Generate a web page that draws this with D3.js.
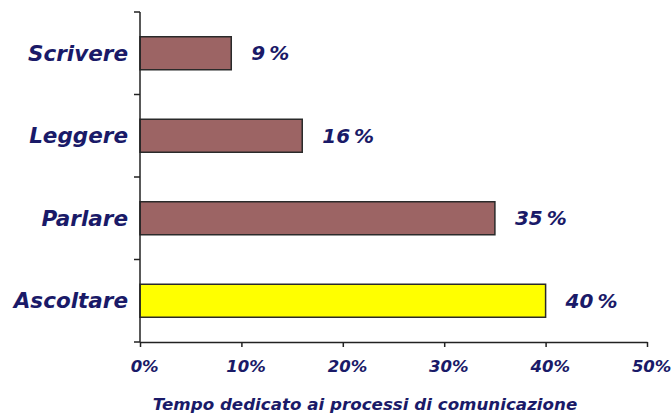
<!DOCTYPE html>
<html>
<head>
<meta charset="utf-8">
<script src="https://cdn.jsdelivr.net/npm/d3@7"></script>
<style>
  body { margin: 0; background: #fff; }
  text { font-family: "DejaVu Sans", Verdana, sans-serif; font-weight: bold; font-style: italic; fill: #1a1a68; }
</style>
</head>
<body>
<div id="chart"></div>
<script>
// data
var categories = ["Scrivere", "Leggere", "Parlare", "Ascoltare"];
var values = [9, 16, 35, 40];
var barColors = ["#9c6464", "#9c6464", "#9c6464", "#ffff00"];
var xTicks = [0, 10, 20, 30, 40, 50];
var axisTitle = "Tempo dedicato ai processi di comunicazione";

var svgWidth = 672, svgHeight = 419;

var svg = d3.select("#chart")
  .append("svg")
  .attr("width", svgWidth)
  .attr("height", svgHeight);

var x = d3.scaleLinear()
  .domain([0, 50])
  .range([140, 647]);

var y = d3.scaleBand()
  .domain(categories)
  .range([12, 342])
  .paddingInner(0.6)
  .paddingOuter(0.3);

// bars
svg.selectAll("rect.bar")
  .data(values)
  .enter()
  .append("rect")
  .attr("class", "bar")
  .attr("x", x(0))
  .attr("y", (d, i) => y(categories[i]))
  .attr("width", d => x(d) - x(0))
  .attr("height", y.bandwidth())
  .attr("fill", (d, i) => barColors[i])
  .attr("stroke", "#2a2a2a")
  .attr("stroke-width", 1.5);

// value labels
svg.selectAll("text.val")
  .data(values)
  .enter()
  .append("text")
  .attr("class", "val")
  .attr("x", d => x(d) + 20)
  .attr("y", (d, i) => y(categories[i]) + y.bandwidth() / 2)
  .attr("dy", "0.35em")
  .style("font-size", "20px")
  .style("word-spacing", "-3px")
  .text(d => d + " %");

// category labels
svg.selectAll("text.cat")
  .data(categories)
  .enter()
  .append("text")
  .attr("class", "cat")
  .attr("x", 128)
  .attr("y", d => y(d) + y.bandwidth() / 2)
  .attr("dy", "0.36em")
  .attr("text-anchor", "end")
  .style("font-size", "21.5px")
  .text(d => d);

// y axis line + ticks between bands
var step = y.step();
var yEdges = categories.map(d => y(d) - step * y.paddingInner() / 2);
yEdges.push(y.range()[1]);

svg.append("line")
  .attr("x1", x(0)).attr("x2", x(0))
  .attr("y1", y.range()[0]).attr("y2", y.range()[1])
  .attr("stroke", "#222").attr("stroke-width", 1.5);

svg.selectAll("line.ytick")
  .data(yEdges)
  .enter()
  .append("line")
  .attr("class", "ytick")
  .attr("x1", x(0) - 6).attr("x2", x(0))
  .attr("y1", d => d).attr("y2", d => d)
  .attr("stroke", "#222").attr("stroke-width", 1.5);

// x axis
var xAxis = svg.append("g")
  .attr("transform", `translate(0, ${y.range()[1]})`)
  .call(d3.axisBottom(x).tickValues(xTicks).tickSize(5).tickSizeOuter(0).tickFormat(d => d + "%"));

xAxis.select(".domain").attr("stroke", "#222").attr("stroke-width", 1.5);
xAxis.selectAll(".tick line").attr("stroke", "#222").attr("stroke-width", 1.5);
xAxis.selectAll(".tick text")
  .attr("y", 18)
  .attr("dx", "0.25em")
  .style("font-size", "16.5px")
  .style("font-family", "'DejaVu Sans', Verdana, sans-serif")
  .attr("fill", "#1a1a68");

// axis title
svg.append("text")
  .attr("x", 365)
  .attr("y", 410)
  .attr("text-anchor", "middle")
  .style("font-size", "16.7px")
  .text(axisTitle);
</script>
</body>
</html>
